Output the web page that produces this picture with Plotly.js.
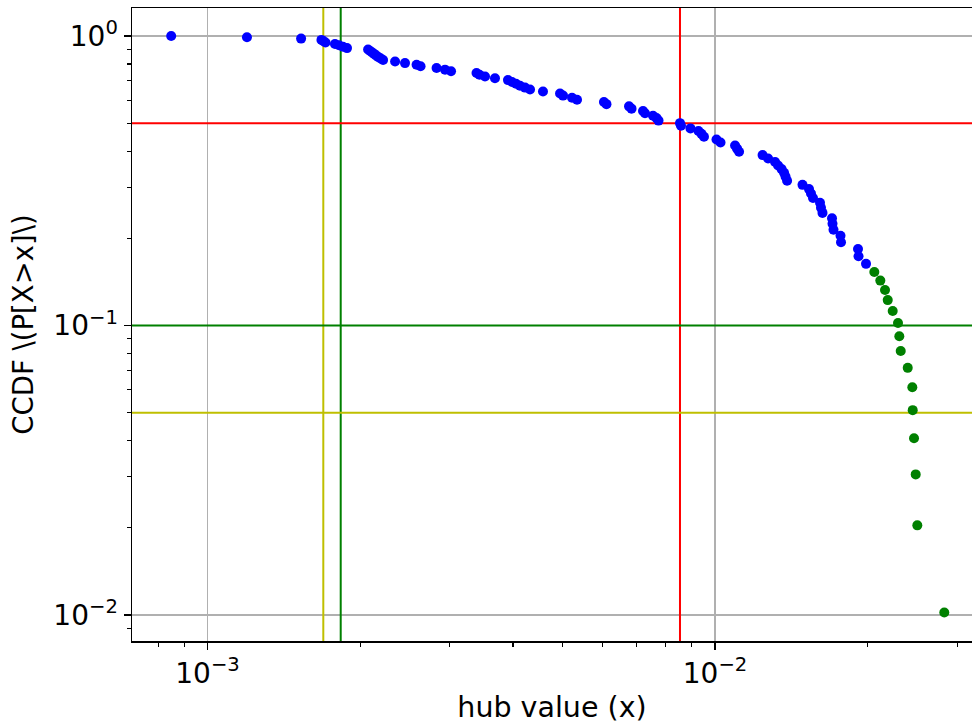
<!DOCTYPE html>
<html>
<head>
<meta charset="utf-8">
<script src="https://cdn.plot.ly/plotly-3.0.1.min.js"></script>
<style>
  html, body { margin: 0; padding: 0; background: #ffffff; }
  #chart { width: 972px; height: 724px; }
</style>
</head>
<body>
<div id="chart"></div>
<script>
// ---- data ----
const blueHub = [0.000848, 0.001196, 0.001529, 0.001677, 0.001693, 0.001708, 0.001783, 0.001816, 0.001849, 0.001883,
  0.002072, 0.002091, 0.002110, 0.002129, 0.002148, 0.002168, 0.002193, 0.002218,
  0.002342, 0.002450, 0.002582, 0.002629, 0.002827, 0.002938, 0.003019, 0.003389, 0.003435, 0.003522,
  0.003685, 0.003909, 0.003981, 0.004054, 0.004128, 0.004223, 0.004320, 0.004582, 0.004950, 0.005018,
  0.005227, 0.005347, 0.006042, 0.006111, 0.006770, 0.006847, 0.007214, 0.007279, 0.007548, 0.007669,
  0.007739, 0.008531, 0.008570, 0.008947, 0.009278, 0.009405, 0.009512, 0.010068, 0.010253, 0.010953,
  0.011052, 0.011153, 0.012410, 0.012723, 0.013134, 0.013314, 0.013527, 0.013681, 0.013775, 0.013869,
  0.014873, 0.015318, 0.015458, 0.015598, 0.016102, 0.016175, 0.016285, 0.017004, 0.017042, 0.017120,
  0.017673, 0.017713, 0.019134, 0.019178, 0.019841];
const blueCcdf = [1.0, 0.9898, 0.9796, 0.9694, 0.9592, 0.9490, 0.9388, 0.9286, 0.9184, 0.9082,
  0.8980, 0.8878, 0.8776, 0.8673, 0.8571, 0.8469, 0.8367, 0.8265,
  0.8163, 0.8061, 0.7959, 0.7857, 0.7755, 0.7653, 0.7551, 0.7449, 0.7347, 0.7245,
  0.7143, 0.7041, 0.6939, 0.6837, 0.6735, 0.6633, 0.6531, 0.6429, 0.6327, 0.6224,
  0.6122, 0.6020, 0.5918, 0.5816, 0.5714, 0.5612, 0.5510, 0.5408, 0.5306, 0.5204,
  0.5102, 0.5000, 0.4898, 0.4796, 0.4694, 0.4592, 0.4490, 0.4388, 0.4286, 0.4184,
  0.4082, 0.3980, 0.3878, 0.3776, 0.3673, 0.3571, 0.3469, 0.3367, 0.3265, 0.3163,
  0.3061, 0.2959, 0.2857, 0.2755, 0.2653, 0.2551, 0.2449, 0.2347, 0.2245, 0.2143,
  0.2041, 0.1939, 0.1837, 0.1735, 0.1633];
const greenHub = [0.020603, 0.021171, 0.021628, 0.021895, 0.022396, 0.022941, 0.023077, 0.023224,
  0.023974, 0.024479, 0.024523, 0.024669, 0.024859, 0.025040, 0.028299];
const greenCcdf = [0.1531, 0.1429, 0.1327, 0.1224, 0.1122, 0.1020, 0.0918, 0.0816,
  0.0714, 0.0612, 0.0510, 0.0408, 0.0306, 0.0204, 0.0102];

const vLineX = [0.001691, 0.001830, 0.008531];
const vLineColors = ['#bfbf00', '#008000', '#ff0000'];
const hLineY = [0.5, 0.1, 0.05];
const hLineColors = ['#ff0000', '#008000', '#bfbf00'];

const xTickVals = [0.001, 0.01];
const xTickText = ['10<sup>\u22123</sup>', '10<sup>\u22122</sup>'];
const yTickVals = [1, 0.1, 0.01];
const yTickText = ['10<sup>0</sup>', '10<sup>\u22121</sup>', '10<sup>\u22122</sup>'];

const xTitle = 'hub value (x)';
const yTitle = 'CCDF \\(P[X>x]\\)';

// ---- traces ----
const traces = [];
vLineX.forEach((v, i) => {
  traces.push({x: [v, v], y: [1e-4, 10], mode: 'lines', type: 'scatter',
    line: {color: vLineColors[i], width: 2}, hoverinfo: 'skip'});
});
hLineY.forEach((v, i) => {
  traces.push({x: [1e-5, 1], y: [v, v], mode: 'lines', type: 'scatter',
    line: {color: hLineColors[i], width: 2}, hoverinfo: 'skip'});
});
traces.push({x: blueHub, y: blueCcdf, mode: 'markers', type: 'scatter',
  marker: {color: '#0000ff', size: 10, line: {width: 0}}});
traces.push({x: greenHub, y: greenCcdf, mode: 'markers', type: 'scatter',
  marker: {color: '#008000', size: 10, line: {width: 0}}});

const font = {family: 'DejaVu Sans, sans-serif', color: '#000000'};
const axisCommon = {
  type: 'log',
  showline: true, linecolor: '#000000', linewidth: 1.5, mirror: true,
  showgrid: true, gridcolor: '#b0b0b0', gridwidth: 1.8,
  zeroline: false,
  ticks: 'outside', ticklen: 7, tickwidth: 1.5, tickcolor: '#000000',
  tickmode: 'array',
  tickfont: Object.assign({size: 28}, font),
  minor: {ticks: 'outside', ticklen: 4, tickwidth: 1.2, tickcolor: '#000000', dtick: 'D1', showgrid: false}
};

const layout = {
  width: 972, height: 724,
  margin: {l: 132, r: 0, t: 8, b: 83},
  paper_bgcolor: '#ffffff', plot_bgcolor: '#ffffff',
  showlegend: false,
  font: font,
  xaxis: Object.assign({}, axisCommon, {
    range: [-3.1488, -1.4936],
    tickvals: xTickVals, ticktext: xTickText,
    title: {text: xTitle, font: Object.assign({size: 28.5}, font), standoff: 10}
  }),
  yaxis: Object.assign({}, axisCommon, {
    range: [-2.0898, 0.0967],
    tickvals: yTickVals, ticktext: yTickText,
    title: {text: yTitle, font: Object.assign({size: 27.5}, font), standoff: 11}
  })
};

Plotly.newPlot('chart', traces, layout, {displayModeBar: false, staticPlot: true});
</script>
</body>
</html>
